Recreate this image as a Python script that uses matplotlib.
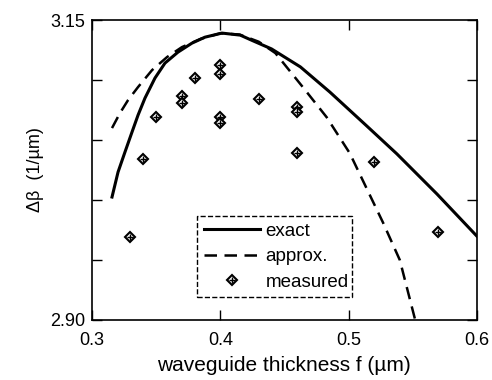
import matplotlib
matplotlib.use("Agg")
import matplotlib.pyplot as plt
from matplotlib.legend_handler import HandlerTuple

plt.rcParams['font.family'] = ['Liberation Sans', 'DejaVu Sans']

# exact curve
f_exact = [0.3156, 0.3203, 0.3257, 0.3312, 0.3359, 0.3413, 0.3491, 0.3569, 0.3670,
           0.3779, 0.3881, 0.4013, 0.4156, 0.425, 0.440, 0.4625, 0.4855, 0.5143,
           0.5377, 0.569, 0.600]
db_exact = [3.0025, 3.0233, 3.040, 3.0567, 3.0708, 3.085, 3.1017, 3.1142, 3.1233,
            3.1308, 3.1358, 3.1392, 3.1375, 3.133, 3.126, 3.111, 3.090, 3.0617,
            3.0385, 3.005, 2.970]

# approximation
f_approx = [0.3156, 0.3218, 0.3281, 0.3359, 0.3468, 0.3585, 0.3701, 0.385, 0.400,
            0.415, 0.430, 0.443, 0.4645, 0.483, 0.501, 0.514, 0.527, 0.540, 0.552]
db_approx = [3.060, 3.0725, 3.0833, 3.0942, 3.1083, 3.1192, 3.1275, 3.1345, 3.139,
             3.138, 3.132, 3.1225, 3.094, 3.069, 3.039, 3.010, 2.981, 2.950, 2.900]

# measured
f_meas = [0.33, 0.34, 0.35, 0.37, 0.37, 0.38, 0.40, 0.40, 0.40, 0.40,
          0.43, 0.46, 0.46, 0.46, 0.52, 0.57]
db_meas = [2.969, 3.034, 3.069, 3.087, 3.081, 3.102, 3.1125, 3.105, 3.069, 3.064,
           3.084, 3.0775, 3.0733, 3.039, 3.032, 2.973]

xticks = [0.3, 0.4, 0.5, 0.6]
xlabels = ["0.3", "0.4", "0.5", "0.6"]
yticks = [2.90, 2.95, 3.00, 3.05, 3.10, 3.15]
ylabels = ["2.90", "", "", "", "", "3.15"]

fig = plt.figure(figsize=(4.92, 3.80), dpi=100)
ax = fig.add_axes([0.187, 0.158, 0.782, 0.789])

l_exact, = ax.plot(f_exact, db_exact, color="black", lw=2.2)
l_approx, = ax.plot(f_approx, db_approx, color="black", lw=1.8, ls=(0, (5, 3)))
m1, = ax.plot(f_meas, db_meas, ls="none", marker="D", ms=5.5, mfc="white",
              mec="black", mew=1.5)
m2, = ax.plot(f_meas, db_meas, ls="none", marker="+", ms=4.5, mec="black", mew=1.0)

ax.set_xlim(0.3, 0.6)
ax.set_ylim(2.90, 3.15)
ax.set_xticks(xticks)
ax.set_xticklabels(xlabels)
ax.set_yticks(yticks)
ax.set_yticklabels(ylabels)
ax.tick_params(direction="in", length=7, width=1, top=True, right=True,
               labelsize=13)
ax.tick_params(axis="x", pad=9)
ax.tick_params(axis="y", pad=5)
for s in ax.spines.values():
    s.set_linewidth(1.2)

ax.set_xlabel("waveguide thickness f (\u00b5m)", fontsize=15, labelpad=5)
ax.set_ylabel("\u0394\u03b2  (1/\u00b5m)", fontsize=13, labelpad=4)

leg = ax.legend([l_exact, l_approx, (m1, m2)], ["exact", "approx.", "measured"],
                handler_map={tuple: HandlerTuple(ndivide=1)},
                loc="lower left", bbox_to_anchor=(0.273, 0.075, 0.402, 0.292),
                mode="expand", fancybox=False, edgecolor="black", framealpha=1,
                fontsize=13.5, handlelength=3, handletextpad=0.3,
                borderaxespad=0, labelspacing=0.45, borderpad=0.35)
leg.get_frame().set_linestyle("--")
leg.get_frame().set_linewidth(1.0)

fig.savefig("out.png", dpi=100)
